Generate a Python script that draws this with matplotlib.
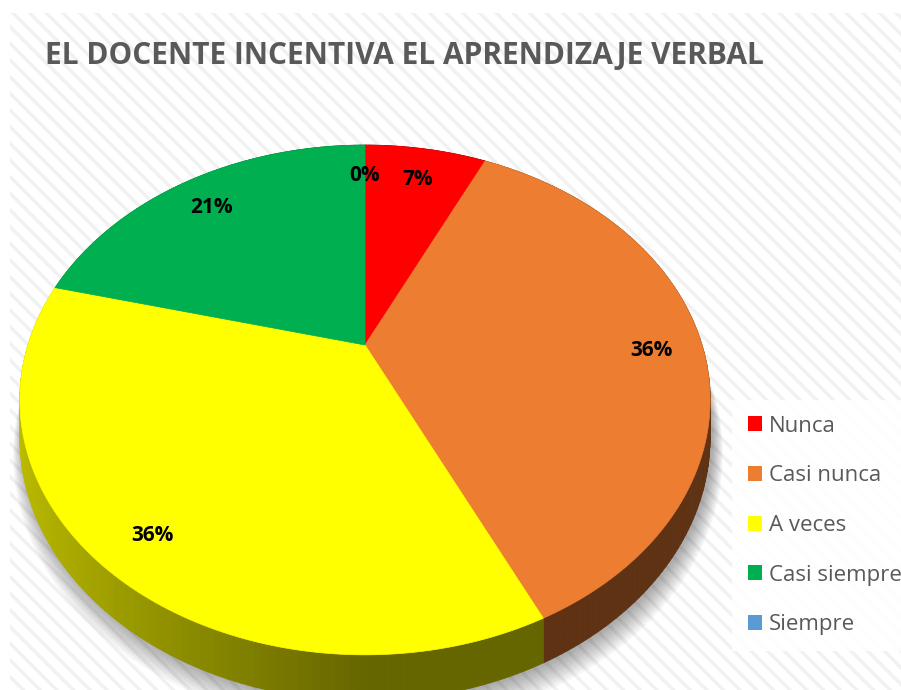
import numpy as np
import matplotlib
matplotlib.use('Agg')
from matplotlib import pyplot as plt
from matplotlib.patches import Rectangle, Patch, Polygon
from matplotlib.collections import PolyCollection
from matplotlib.colors import to_rgb

# data
categories = ['Nunca', 'Casi nunca', 'A veces', 'Casi siempre', 'Siempre']
shares = [7, 36, 36, 21, 0]          # percent
colors = ['#FF0000', '#ED7D31', '#FFFF00', '#00B050', '#5B9BD5']
title = 'EL DOCENTE INCENTIVA EL APRENDIZAJE VERBAL'

plt.rcParams['font.family'] = ['Open Sans', 'DejaVu Sans']
plt.rcParams['hatch.linewidth'] = 2.4

# pie geometry in pixel units (perspective tilted disc)
cx, cy = 365, 345
A, K, P, H = 337, 243, 0.2157, 36
label_r = 0.85
label_dy = 5


def project(theta, r=1.0, drop=0.0):
    u = r*np.sin(theta)
    v = -r*np.cos(theta)
    s = 1/(1 - P*v)
    return cx + A*u*s, cy + K*v*s + drop*s


fig = plt.figure(figsize=(9.01, 6.90), dpi=100)
ax = fig.add_axes([0, 0, 1, 1])
ax.set_xlim(0, 901)
ax.set_ylim(690, 0)
ax.axis('off')

# hatched chart area
ax.add_patch(Rectangle((10, 13), 900, 690, facecolor='white', edgecolor='#f1f1f1',
                       hatch='\\\\', lw=0, zorder=0))

fracs = np.array(shares, dtype=float)/sum(shares)
bounds = np.concatenate([[0], np.cumsum(fracs)])*2*np.pi

# soft shadow under the pie
t_all = np.linspace(0, 2*np.pi, 400)
for i in range(10):
    xs, ys = project(t_all, 1 + 0.003*i, H + 2 + 1.2*i)
    ax.fill(xs + 3, ys, color='black', alpha=0.035, lw=0, zorder=1)

# side wall
quads, qcols, depth = [], [], []
for k in range(len(shares)):
    if fracs[k] == 0:
        continue
    n = max(2, int(np.degrees(bounds[k+1]-bounds[k])))
    th = np.linspace(bounds[k], bounds[k+1], n+1)
    base = np.array(to_rgb(colors[k]))
    for a, b in zip(th[:-1], th[1:]):
        x1, y1 = project(a)
        x2, y2 = project(b)
        x3, y3 = project(b, drop=H)
        x4, y4 = project(a, drop=H)
        um = np.sin((a+b)/2)
        f = 0.40 + 0.35*max(0.0, -um)
        quads.append([(x1, y1), (x2, y2), (x3, y3), (x4, y4)])
        qcols.append(base*f)
        depth.append(-np.cos((a+b)/2))
order = np.argsort(depth)
ax.add_collection(PolyCollection([quads[i] for i in order],
                                 facecolors=[qcols[i] for i in order],
                                 edgecolors=[qcols[i] for i in order],
                                 linewidths=0.6, zorder=2))

# top faces
for k in range(len(shares)):
    if fracs[k] == 0:
        continue
    th = np.linspace(bounds[k], bounds[k+1], 200)
    xs, ys = project(th)
    pts = np.column_stack([np.r_[cx, xs], np.r_[cy, ys]])
    ax.add_patch(Polygon(pts, closed=True, facecolor=colors[k], edgecolor=colors[k],
                         lw=0.5, zorder=3))

# percentage labels
for k in range(len(shares)):
    mid = (bounds[k] + bounds[k+1])/2
    lx, ly = project(mid, label_r)
    ax.text(lx, ly + label_dy, f'{shares[k]}%', ha='center', va='center', fontsize=15,
            fontweight='bold', color='black', zorder=4)

ax.text(45, 64, title, ha='left', va='baseline', fontsize=21.5, fontweight='bold',
        color='#595959', zorder=4)

handles = [Patch(facecolor=c, edgecolor='none') for c in colors]
leg = fig.legend(handles, categories, loc='upper left',
                 bbox_to_anchor=(732/901, 1 - 400/690), frameon=True,
                 prop={'family': 'Open Sans', 'size': 16}, labelcolor='#595959',
                 handlelength=0.65, handleheight=0.65, handletextpad=0.3,
                 labelspacing=1.29, borderpad=0.7, borderaxespad=0, fancybox=False)
leg.get_frame().set_facecolor('white')
leg.get_frame().set_edgecolor('none')
leg.get_frame().set_alpha(0.9)

fig.savefig('out.png', dpi=100)
